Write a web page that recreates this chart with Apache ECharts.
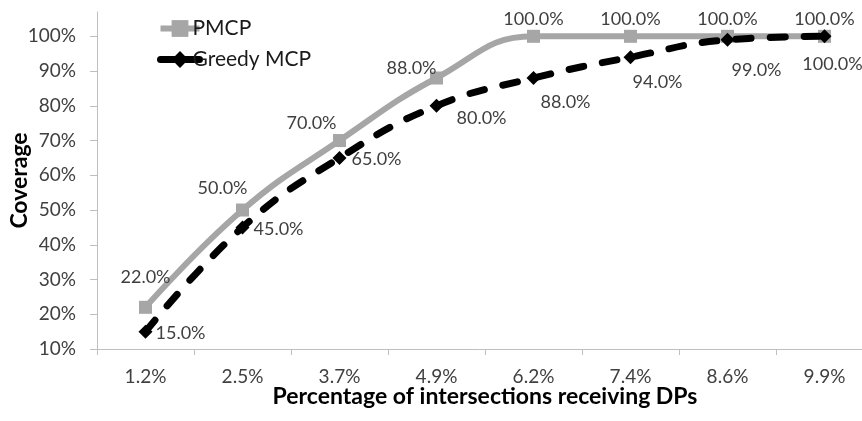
<!DOCTYPE html>
<html><head><meta charset="utf-8">
<script src="https://cdn.jsdelivr.net/npm/echarts@6/dist/echarts.min.js"></script>
<style>html,body{margin:0;padding:0;background:#fff}#c{width:862px;height:421px}</style>
</head><body><div id="c"></div>
<script>
const categories = ['1.2%','2.5%','3.7%','4.9%','6.2%','7.4%','8.6%','9.9%'];
const pmcp = [22, 50, 70, 88, 100, 100, 100, 100];
const greedy = [15, 45, 65, 80, 88, 94, 99, 100];
const yTicks = [10, 20, 30, 40, 50, 60, 70, 80, 90, 100];

const FONT = 'Lato';
const pmcpOff = [[0,-30],[-20,-22],[-28,-17],[-25,-10],[0,-17],[0,-17],[0,-17],[0,-17]];
const greedyOff = [[35,2],[36,2],[37,1],[45,12],[32,24],[27,25],[29,30],[8,28]];

function mk(vals, offs) {
  return vals.map((v, i) => ({
    value: v,
    label: { offset: offs[i] }
  }));
}
const lbl = {
  show: true, position: 'inside', align: 'center', verticalAlign: 'middle',
  fontFamily: FONT, fontSize: 18, color: '#404040',
  formatter: p => p.value.toFixed(1) + '%'
};

const chart = echarts.init(document.getElementById('c'));
chart.setOption({
  animation: false,
  textStyle: { fontFamily: FONT },
  grid: { left: 97, right: -11, top: 12, bottom: 72, outerBoundsMode: 'none', containLabel: false },
  legend: {
    orient: 'vertical', left: 152, top: 13, itemGap: 10,
    itemWidth: 39, itemHeight: 21,
    textStyle: { fontFamily: FONT, fontSize: 21, color: '#1a1a1a', padding: [0,0,0,-12] },
    data: [
      { name: 'PMCP', lineStyle: { width: 6 } },
      { name: 'Greedy MCP', lineStyle: { type: 'solid', width: 7 } }
    ]
  },
  xAxis: {
    type: 'category', data: categories, boundaryGap: true,
    name: 'Percentage of intersections receiving DPs',
    nameLocation: 'middle', nameGap: 36, nameMoveOverlap: false,
    nameTextStyle: { fontFamily: FONT, fontSize: 23, fontWeight: 'bold', color: '#000', verticalAlign: 'top' },
    axisLine: { lineStyle: { color: '#bfbfbf', width: 1 } },
    axisTick: { show: true, length: 6, inside: false, lineStyle: { color: '#bfbfbf' } },
    axisLabel: { margin: 18, fontFamily: FONT, fontSize: 19, color: '#404040' }
  },
  yAxis: {
    type: 'value', min: 10, max: 107, interval: 10,
    name: 'Coverage', nameLocation: 'middle', nameGap: 66, nameMoveOverlap: false,
    nameTextStyle: { fontFamily: FONT, fontSize: 23, fontWeight: 'bold', color: '#000' },
    splitLine: { show: false },
    axisLine: { show: true, lineStyle: { color: '#bfbfbf', width: 1 } },
    axisTick: { show: true, length: 7, customValues: yTicks, lineStyle: { color: '#bfbfbf' } },
    axisLabel: { margin: 21, customValues: yTicks, fontFamily: FONT, fontSize: 19, color: '#404040',
      formatter: v => v + '%' }
  },
  series: [
    {
      name: 'PMCP', type: 'line', smooth: 0.45, data: mk(pmcp, pmcpOff),
      symbol: 'rect', symbolSize: 13,
      lineStyle: { color: '#a6a6a6', width: 6 },
      itemStyle: { color: '#a6a6a6' },
      label: lbl, z: 2
    },
    {
      name: 'Greedy MCP', type: 'line', smooth: 0.45, data: mk(greedy, greedyOff),
      symbol: 'diamond', symbolSize: 14,
      lineStyle: { color: '#000', width: 7, type: [15, 19], cap: 'round' },
      itemStyle: { color: '#000' },
      label: lbl, z: 3
    }
  ]
});
</script></body></html>
